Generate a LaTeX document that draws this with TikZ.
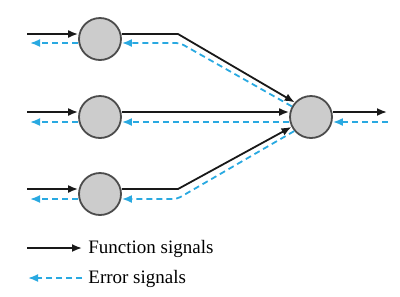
\documentclass[tikz,border=0pt]{standalone}
\usepackage{fontspec}
\setmainfont{Liberation Serif}
\usetikzlibrary{positioning, calc, arrows.meta}

\begin{document}
\begin{tikzpicture}[
  x=0.5pt, y=-0.5pt,
  font=\fontsize{9.5}{11}\selectfont,
  >={Latex[length=5pt,width=4pt]},
  neuron/.style={circle, draw=black!70, line width=0.9pt, fill=black!20,
                 minimum size=21pt, inner sep=0pt},
  fsig/.style={black!90, line width=0.9pt, ->},
  esig/.style={cBlue, line width=0.9pt, dash pattern=on 3pt off 2pt, ->},
  legtext/.style={anchor=base west, inner sep=0pt},
]
\definecolor{cBlue}{HTML}{29A9E1}   % error signal blue

\useasboundingbox (0,0) rectangle (400,296);

% ---------- neurons ----------
\node[neuron] (h1) at (100,39) {};
\node[neuron] (h2) at (100,117) {};
\node[neuron] (h3) at (100,194) {};
\node[neuron] (out) at (311,117) {};

% ---------- free ends ----------
\coordinate (in1) at (27,34);
\coordinate (in2) at (27,112);
\coordinate (in3) at (27,189);
\coordinate (e1) at (30,43);
\coordinate (e2) at (30,122);
\coordinate (e3) at (30,199);
\coordinate (y) at (387,112);
\coordinate (ey) at (388,122);

% ---------- function signals (forward) ----------
\draw[fsig] (in1) -- (in1 -| h1.west);
\draw[fsig] (in2) -- (in2 -| h2.west);
\draw[fsig] (in3) -- (in3 -| h3.west);
\draw[fsig] (h1.east |- in1) -- (178,34) -- (out.138);
\draw[fsig] (h2.east |- in2) -- (in2 -| out.west);
\draw[fsig] (h3.east |- in3) -- (178,189) -- (out.207);
\draw[fsig] (out.east |- y) -- (y);

% ---------- error signals (backward) ----------
\draw[esig] (e1 -| h1.west) -- (e1);
\draw[esig] (e2 -| h2.west) -- (e2);
\draw[esig] (e3 -| h3.west) -- (e3);
\draw[esig, rounded corners=2pt] (out.151) -- (180,43) -- (h1.east |- e1);
\draw[esig] (out.west |- e2) -- (h2.east |- e2);
\draw[esig, rounded corners=2pt] (out.220) -- (177,199) -- (h3.east |- e3);
\draw[esig] (ey) -- (out.east |- ey);

% ---------- legend ----------
\coordinate (lf) at (27,248);
\coordinate (le) at (28,278);
\node[legtext] (ftext) at (88,253) {Function signals};
\node[legtext] (etext) at (88,283) {Error signals};
\draw[fsig] (lf) -- ([xshift=-3pt]lf -| ftext.west);
\draw[esig] ([xshift=-3pt]le -| etext.west) -- (le);

\end{tikzpicture}
\end{document}
